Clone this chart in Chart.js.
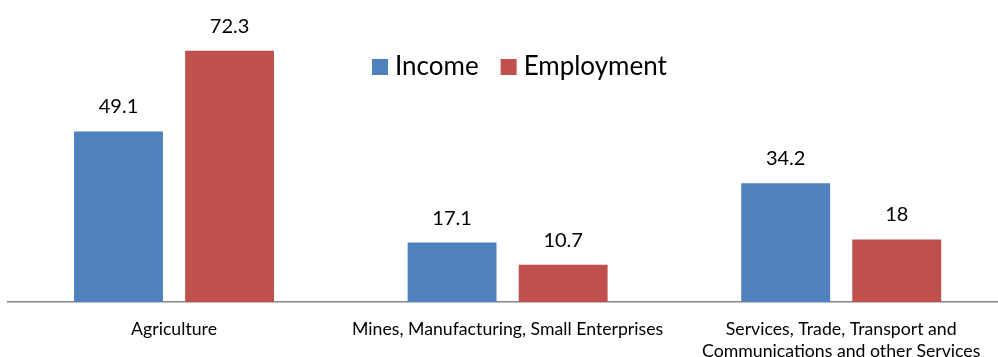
<!DOCTYPE html>
<html>
<head>
<meta charset="utf-8">
<script src="https://cdn.jsdelivr.net/npm/chart.js@4.4.1/dist/chart.umd.min.js"></script>
<style>
html,body{margin:0;padding:0;background:#fff;overflow:hidden;}
#wrap{width:998px;height:357px;position:relative;overflow:hidden;}
</style>
</head>
<body>
<div id="wrap"><canvas id="c" width="1008" height="357"></canvas></div>
<script>
const categories = ["Agriculture", "Mines, Manufacturing, Small Enterprises", ["Services, Trade, Transport and", "Communications and other Services"]];
const seriesNames = ["Income", "Employment"];
const incomeValues = [49.1, 17.1, 34.2];
const employmentValues = [72.3, 10.7, 18];
const seriesColors = ["#4F81BD", "#C0504D"];
const FONT = "Lato, 'Liberation Sans', sans-serif";

const valueLabels = {
  id: 'valueLabels',
  afterDatasetsDraw(chart) {
    const ctx = chart.ctx;
    ctx.save();
    ctx.font = "20px " + FONT;
    ctx.fillStyle = "#000";
    ctx.textAlign = "center";
    ctx.textBaseline = "alphabetic";
    chart.data.datasets.forEach((ds, i) => {
      const meta = chart.getDatasetMeta(i);
      meta.data.forEach((el, j) => {
        ctx.fillText(String(ds.data[j]), el.x, el.y - 18);
      });
    });
    ctx.restore();
  }
};

const customLegend = {
  id: 'customLegend',
  afterDraw(chart) {
    const ctx = chart.ctx;
    ctx.save();
    ctx.font = "26px " + FONT;
    ctx.textBaseline = "alphabetic";
    ctx.textAlign = "left";
    let x = 372;
    const sq = 16, top = 59, baseline = 75;
    chart.data.datasets.forEach((ds) => {
      ctx.fillStyle = ds.backgroundColor;
      ctx.fillRect(x, top, sq, sq);
      x += sq + 7;
      ctx.fillStyle = "#000";
      ctx.fillText(ds.label, x, baseline);
      x += ctx.measureText(ds.label).width + 22;
    });
    ctx.restore();
  }
};

new Chart(document.getElementById('c'), {
  type: 'bar',
  data: {
    labels: categories,
    datasets: [
      { label: seriesNames[0], data: incomeValues, backgroundColor: seriesColors[0], borderWidth: 0 },
      { label: seriesNames[1], data: employmentValues, backgroundColor: seriesColors[1], borderWidth: 0 }
    ]
  },
  options: {
    responsive: false,
    animation: false,
    devicePixelRatio: 1,
    categoryPercentage: 0.666,
    barPercentage: 0.8,
    layout: { padding: { left: 7.25, right: 0, top: 24, bottom: 0 } },
    plugins: { legend: { display: false }, tooltip: { enabled: false } },
    scales: {
      y: { display: false, min: 0, max: 80 },
      x: {
        grid: { display: false },
        border: { display: true, color: "#868686", width: 1.5 },
        ticks: { color: "#000", font: { family: FONT, size: 17.7, lineHeight: 1.2 }, padding: 9, maxRotation: 0, autoSkip: false },
        afterFit(scale) { scale.height = 55; }
      }
    }
  },
  plugins: [valueLabels, customLegend]
});
</script>
</body>
</html>
